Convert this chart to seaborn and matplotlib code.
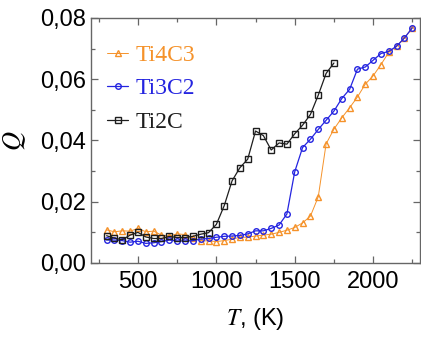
import matplotlib
matplotlib.use('Agg')
import matplotlib.pyplot as plt
import numpy as np
import pandas as pd
import seaborn as sns
from matplotlib.ticker import MultipleLocator, FuncFormatter

# temperatures, 50 K steps
t_ti4c3 = list(range(300, 2251, 50))
t_ti3c2 = list(range(300, 2251, 50))
t_ti2c = list(range(300, 1751, 50))

q_ti4c3 = [0.0108, 0.0102, 0.0105, 0.0104, 0.0113, 0.0102, 0.0104, 0.0091, 0.0088, 0.0095,
           0.0093, 0.0082, 0.0073, 0.0072, 0.0070, 0.0073, 0.0078, 0.0084, 0.0084, 0.0088,
           0.0091, 0.0094, 0.0100, 0.0107, 0.0116, 0.0131, 0.0153, 0.0216, 0.0389, 0.0437,
           0.0474, 0.0507, 0.0542, 0.0584, 0.0611, 0.0648, 0.0688, 0.0708, 0.0735, 0.0768]
q_ti3c2 = [0.0075, 0.0075, 0.0073, 0.0068, 0.0071, 0.0064, 0.0066, 0.0070, 0.0075, 0.0072,
           0.0072, 0.0073, 0.0078, 0.0080, 0.0084, 0.0087, 0.0088, 0.0090, 0.0095, 0.0105,
           0.0105, 0.0113, 0.0124, 0.0160, 0.0298, 0.0377, 0.0404, 0.0436, 0.0466, 0.0496,
           0.0537, 0.0567, 0.0633, 0.0640, 0.0662, 0.0684, 0.0691, 0.0708, 0.0735, 0.0768]
q_ti2c = [0.0089, 0.0081, 0.0076, 0.0091, 0.0100, 0.0085, 0.0080, 0.0080, 0.0087, 0.0083,
          0.0083, 0.0087, 0.0094, 0.0099, 0.0126, 0.0187, 0.0268, 0.0311, 0.0339, 0.0431,
          0.0416, 0.0369, 0.0392, 0.0388, 0.0422, 0.0450, 0.0485, 0.0548, 0.0619, 0.0653]

labels = ['Ti4C3', 'Ti3C2', 'Ti2C']
colors = ['#F5922A', '#2424E0', '#1E1E1E']
markers = ['^', 'o', 's']
line_widths = [0.7, 0.9, 0.9]

df = pd.concat([
    pd.DataFrame({'T': t_ti4c3, 'Q': q_ti4c3, 'phase': labels[0]}),
    pd.DataFrame({'T': t_ti3c2, 'Q': q_ti3c2, 'phase': labels[1]}),
    pd.DataFrame({'T': t_ti2c, 'Q': q_ti2c, 'phase': labels[2]}),
])

sns.set_style('ticks')
plt.rcParams['font.family'] = ['Liberation Sans', 'DejaVu Sans']
plt.rcParams['mathtext.fontset'] = 'stix'

fig = plt.figure(figsize=(4.21, 3.37), dpi=100)
ax = fig.add_axes([0.216, 0.2196, 0.782, 0.727])

for lab, col, mk, lw in zip(labels, colors, markers, line_widths):
    sub = df[df['phase'] == lab]
    sns.lineplot(data=sub, x='T', y='Q', ax=ax, color=col, marker=mk,
                 markersize=4.0, markerfacecolor='none', markeredgecolor=col,
                 markeredgewidth=1.0, linewidth=lw, label=lab, sort=False)

ax.set_xlim(200, 2300)
ax.set_ylim(0, 0.08)
ax.xaxis.set_major_locator(MultipleLocator(500))
ax.xaxis.set_minor_locator(MultipleLocator(250))
ax.yaxis.set_major_locator(MultipleLocator(0.02))
ax.yaxis.set_minor_locator(MultipleLocator(0.01))
ax.yaxis.set_major_formatter(FuncFormatter(lambda v, p: f'{v:.2f}'.replace('.', ',')))
ax.xaxis.set_major_formatter(FuncFormatter(lambda v, p: f'{v:.0f}'))

ax.tick_params(which='both', direction='in', top=True, right=True,
               color='#666666', labelcolor='black', labelsize=17, width=0.9)
ax.tick_params(which='major', length=5)
ax.tick_params(which='minor', length=3)
ax.tick_params(axis='x', pad=6)
for sp in ax.spines.values():
    sp.set_color('#666666')
    sp.set_linewidth(1.0)

ax.set_xlabel('$\\mathit{T}$, (K)', fontsize=17, labelpad=9, color='black')
ax.set_ylabel('$\\mathit{Q}$', fontsize=19, labelpad=9, color='black')

leg = ax.legend(loc='upper left', bbox_to_anchor=(0.02, 0.93), frameon=False,
                handlelength=0.9, handletextpad=0.3, labelspacing=0.5,
                borderaxespad=0, prop={'family': 'Liberation Serif', 'size': 17})
for txt, col in zip(leg.get_texts(), colors):
    txt.set_color(col)

fig.savefig('out.png', dpi=100)
